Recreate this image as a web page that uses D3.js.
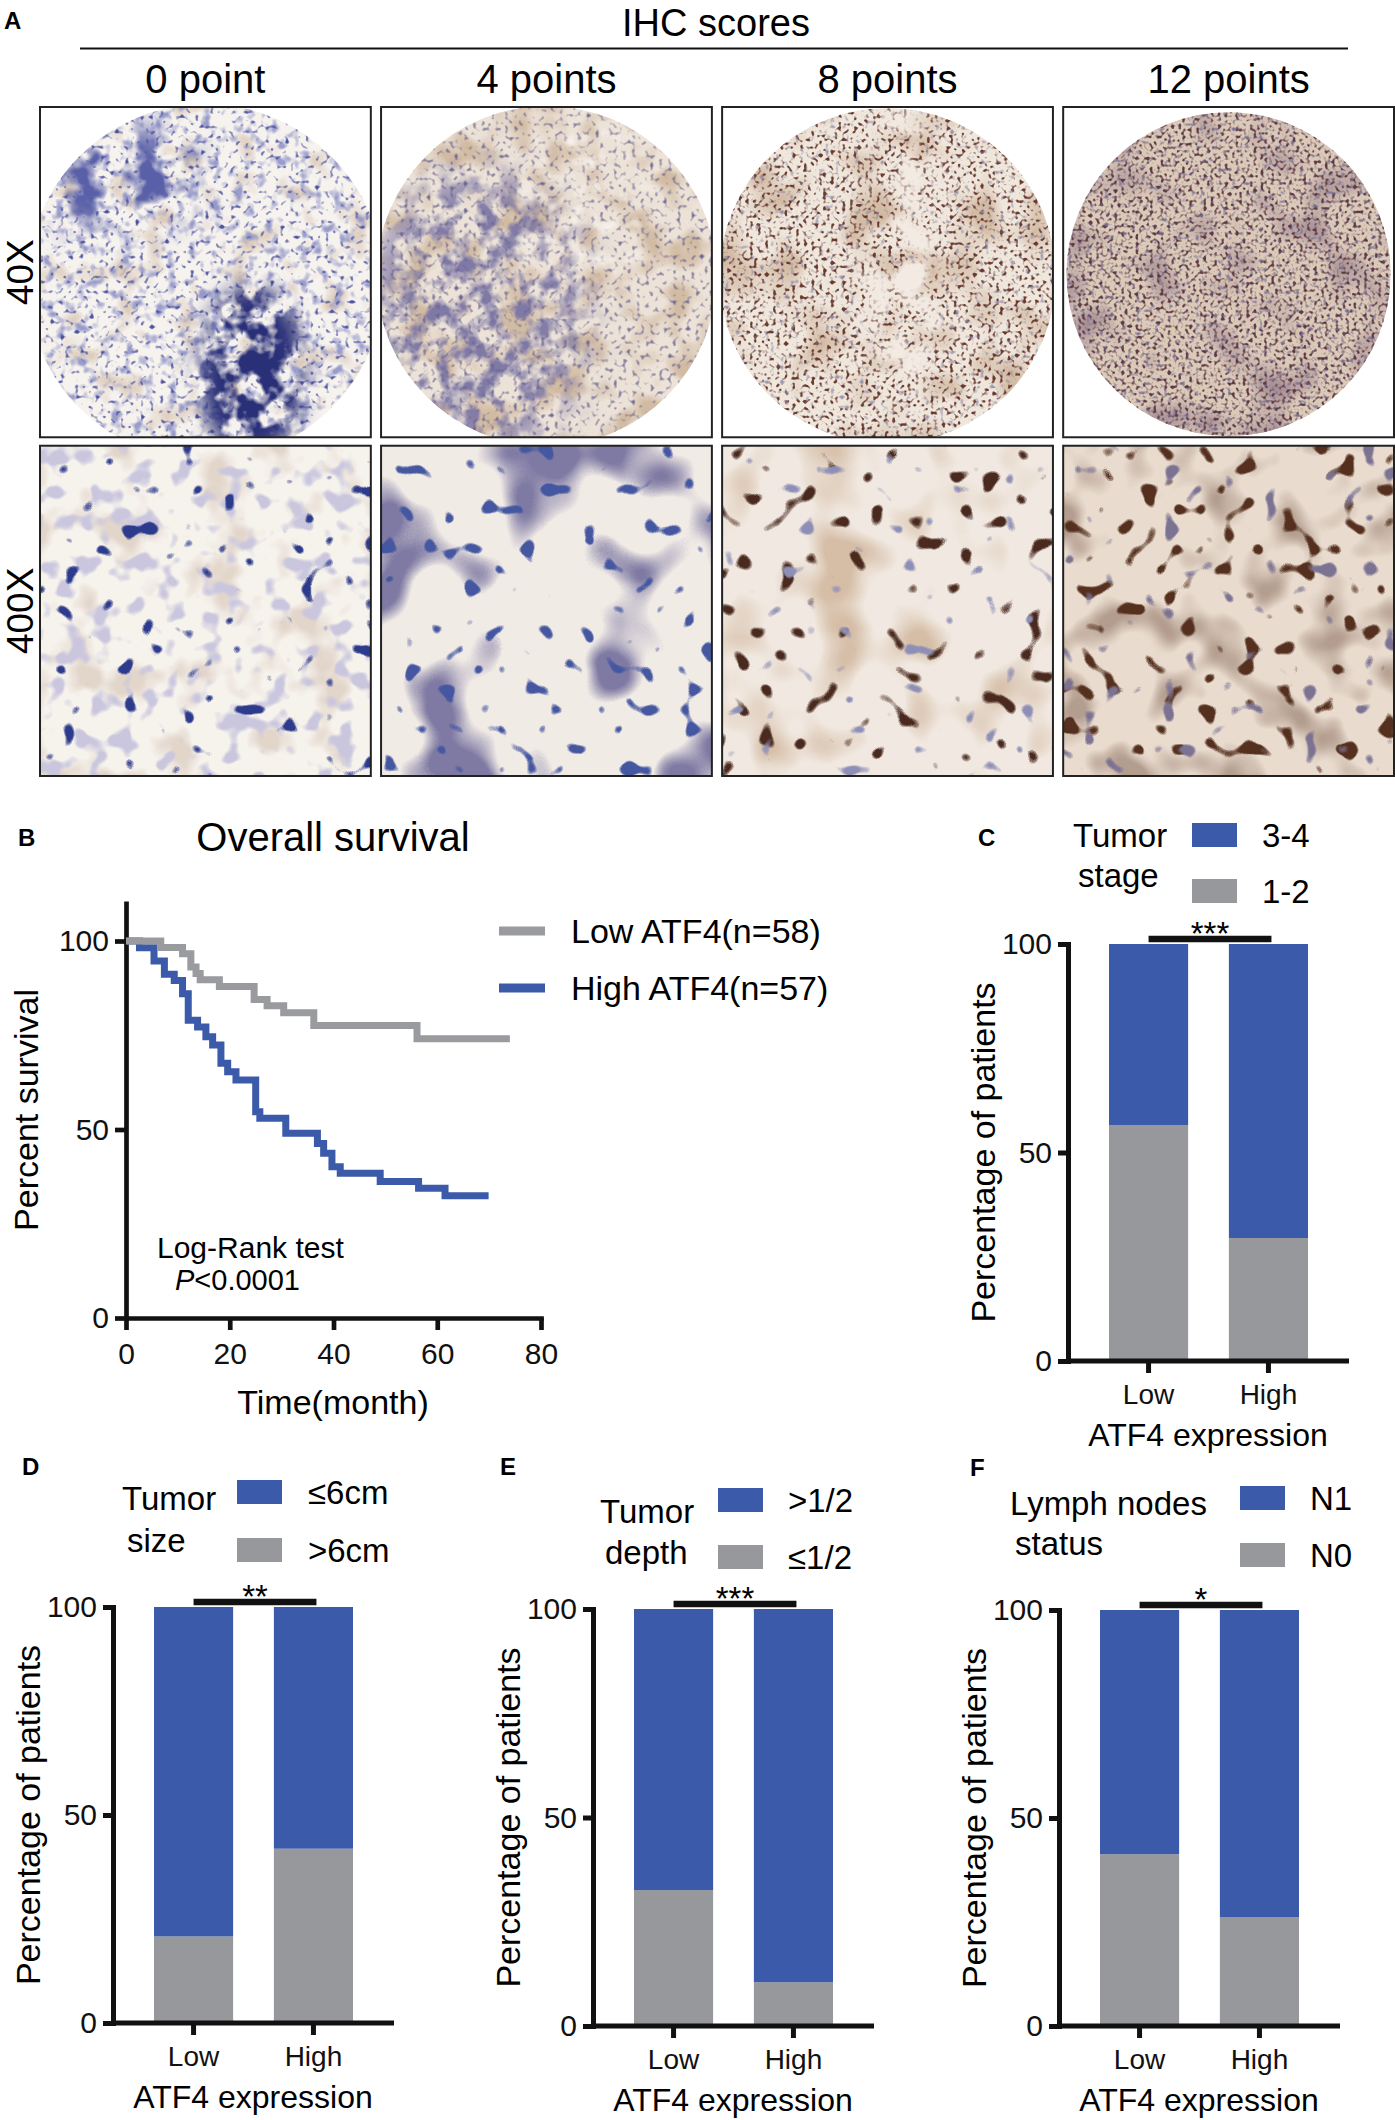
<!DOCTYPE html>
<html>
<head>
<meta charset="utf-8">
<script src="https://d3js.org/d3.v7.min.js"></script>
<style>
  body { margin: 0; background: #fff; }
  svg { display: block; font-family: "Liberation Sans", Arial, Helvetica, sans-serif; }
</style>
</head>
<body>
<svg id="fig" width="1395" height="2120"></svg>
<script>
// ---- panel A: IHC score examples
const ihcScores = ["0 point", "4 points", "8 points", "12 points"];
const magnifications = ["40X", "400X"];

// ---- panel B: Kaplan-Meier steps (month, % surviving)
const lowTime  = [0, 6.7, 10.9, 12.5, 13.5, 14.3, 18.0, 24.7, 27.2, 30.4, 36.2, 56.1];
const lowSurv  = [100, 98.3, 96.6, 93.1, 91.4, 89.7, 87.9, 84.5, 82.8, 81.0, 77.6, 74.1];
const lowLastFollowUp = 74;
const highTime = [0, 2.6, 5.4, 7.4, 9.3, 10.9, 12.0, 13.8, 15.4, 16.7, 18.3, 19.6, 21.2, 25.0, 25.8, 30.8, 36.9, 38.1, 39.7, 41.3, 49.0, 56.4, 61.5];
const highSurv = [100, 98.2, 94.7, 91.2, 89.5, 86.0, 79.0, 77.2, 74.6, 72.4, 67.6, 65.3, 63.1, 54.7, 53.0, 49.0, 46.3, 43.7, 40.1, 38.4, 36.2, 34.4, 32.4];
const highLastFollowUp = 69.9;
const survivalGroups = ["Low ATF4(n=58)", "High ATF4(n=57)"];
const timeTicks = [0, 20, 40, 60, 80];
const survTicks = [0, 50, 100];

// ---- panels C-F: % of patients (gray = lower category), Low vs High ATF4
const expressionGroups = ["Low", "High"];
const pctTicks = [0, 50, 100];
const stageLegend = ["3-4", "1-2"];
const stageGray = [56.6, 29.5];
const sizeLegend = ["≤6cm", ">6cm"];
const sizeGray = [20.8, 41.9];
const depthLegend = [">1/2", "≤1/2"];
const depthGray = [32.6, 10.5];
const nodesLegend = ["N1", "N0"];
const nodesGray = [41.3, 26.2];

const BLUE = "#3b5aa9";
const GRAY = "#96989c";
const LINEGRAY = "#999b9f";

const svg = d3.select("#fig");
const defs = svg.append("defs");

// ================= Panel A =================
svg.append("text").attr("x", 4).attr("y", 20).attr("dominant-baseline", "central")
  .attr("font-weight", "bold").attr("font-size", 24).text("A");
svg.append("text").attr("x", 716).attr("y", 23).attr("text-anchor", "middle")
  .attr("dominant-baseline", "central").attr("font-size", 38).text("IHC scores");
svg.append("line").attr("x1", 80).attr("x2", 1348).attr("y1", 48.5).attr("y2", 48.5)
  .attr("stroke", "#111").attr("stroke-width", 2);

const colA = d3.scaleBand().domain(ihcScores).range([40, 1394]).paddingInner(0.03);
const rowA = d3.scaleBand().domain(magnifications).range([107, 776]).paddingInner(0.025);

svg.selectAll(".colhead").data(ihcScores).join("text")
  .attr("x", d => colA(d) + colA.bandwidth() / 2).attr("y", 79)
  .attr("text-anchor", "middle").attr("dominant-baseline", "central")
  .attr("font-size", 40).text(d => d);

svg.selectAll(".rowhead").data(magnifications).join("text")
  .attr("transform", d => `translate(20,${rowA(d) + rowA.bandwidth() / 2}) rotate(-90)`)
  .attr("text-anchor", "middle").attr("dominant-baseline", "central")
  .attr("font-size", 37).text(d => d);

// noise -> colour, kept only where the shape is (optionally with a soft edge)
function addNoise(id, L, seed) {
  const f = defs.append("filter").attr("id", id)
    .attr("filterUnits", "userSpaceOnUse")
    .attr("x", L.box[0]).attr("y", L.box[1]).attr("width", L.box[2]).attr("height", L.box[3])
    .attr("color-interpolation-filters", "sRGB");
  f.append("feTurbulence").attr("type", "fractalNoise").attr("baseFrequency", L.f)
    .attr("numOctaves", L.o).attr("seed", seed).attr("result", "n");
  const c = d3.rgb(L.c);
  f.append("feColorMatrix").attr("in", "n").attr("type", "matrix")
    .attr("values", [0, 0, 0, 0, c.r / 255, 0, 0, 0, 0, c.g / 255, 0, 0, 0, 0, c.b / 255,
                     L.k, 0, 0, 0, -L.k * L.t].join(" "))
    .attr("result", "c");
  let mask = "SourceGraphic";
  if (L.soft) {
    f.append("feGaussianBlur").attr("in", "SourceGraphic").attr("stdDeviation", L.soft).attr("result", "m");
    mask = "m";
  }
  f.append("feComposite").attr("in", "c").attr("in2", mask).attr("operator", "in");
}

// texture recipes for the micrograph placeholders (stain look only)
// e = optional ellipse [cx, cy, rx, ry] in box fractions restricting a layer
const textures = {
  "40X": [
    { base: "#f6f2ee", r: 178, dy: 10, layers: [
      { f: 0.035, o: 2, c: "#dccbba", t: 0.54, k: 4 },
      { f: 0.09, o: 2, c: "#9a9dcb", t: 0.52, k: 4 },
      { f: 0.2, o: 1, c: "#4d53a0", t: 0.60, k: 6 },
      { f: 0.03, o: 3, c: "#5a60a8", t: 0.47, k: 5, e: [0.22, 0.22, 0.28, 0.16], soft: 14 },
      { f: 0.04, o: 3, c: "#2a3078", t: 0.40, k: 6, e: [0.64, 0.8, 0.16, 0.26], soft: 10 } ] },
    { base: "#ece2d7", r: 170, dy: 4, layers: [
      { f: 0.03, o: 2, c: "#d2bba3", t: 0.46, k: 4 },
      { f: 0.05, o: 3, c: "#7f79a6", t: 0.42, k: 4, e: [0.3, 0.62, 0.32, 0.42], soft: 20 },
      { f: 0.22, o: 1, c: "#6c6690", t: 0.56, k: 4 },
      { f: 0.06, o: 2, c: "#f7f2ec", t: 0.50, k: 3, e: [0.62, 0.3, 0.2, 0.32], soft: 20 } ] },
    { base: "#efe6dc", r: 168, dy: 4, layers: [
      { f: 0.02, o: 2, c: "#d3bca6", t: 0.48, k: 4 },
      { f: 0.26, o: 1, c: "#6a3a30", t: 0.54, k: 6 },
      { f: 0.2, o: 1, c: "#8a86a6", t: 0.6, k: 4 },
      { f: 0.03, o: 2, c: "#f3ebe3", t: 0.45, k: 5, e: [0.55, 0.45, 0.12, 0.45], soft: 12 } ] },
    { base: "#dccab9", r: 162, dy: 2, layers: [
      { f: 0.02, o: 2, c: "#a89196", t: 0.50, k: 3 },
      { f: 0.28, o: 1, c: "#5e3a45", t: 0.51, k: 5 },
      { f: 0.22, o: 1, c: "#6e6a95", t: 0.58, k: 4 } ] }
  ],
  "400X": [
    { base: "#f6f2ec", layers: [
      { f: 0.02, o: 3, c: "#e2d5ca", t: 0.52, k: 5 },
      { f: 0.045, o: 2, c: "#c9c6de", t: 0.55, k: 8 },
      { f: 0.05, o: 1, c: "#2d3b8c", t: 0.66, k: 20 } ] },
    { base: "#f1ebe6", layers: [
      { f: 0.012, o: 2, c: "#7f7aa3", t: 0.53, k: 6 },
      { f: 0.05, o: 1, c: "#4557a0", t: 0.66, k: 20 } ] },
    { base: "#f1e9e1", layers: [
      { f: 0.015, o: 2, c: "#d5bda6", t: 0.50, k: 4 },
      { f: 0.045, o: 1, c: "#4a2a1f", t: 0.64, k: 18 },
      { f: 0.05, o: 1, c: "#8e8fb6", t: 0.68, k: 18 } ] },
    { base: "#e9dccf", layers: [
      { f: 0.02, o: 2, c: "#b39d8e", t: 0.50, k: 4 },
      { f: 0.05, o: 1, c: "#55301f", t: 0.63, k: 18 },
      { f: 0.05, o: 1, c: "#7c7393", t: 0.66, k: 18 } ] }
  ]
};

let seedNo = 3;
magnifications.forEach(mag => {
  ihcScores.forEach((score, i) => {
    const x0 = colA(score), y0 = rowA(mag), w = colA.bandwidth(), h = rowA.bandwidth();
    const id = `clip-${mag}-${i}`;
    const spec = textures[mag][i];
    const cx = x0 + w / 2, cy = y0 + h / 2 + (spec.dy || 0);
    const core = mag === "40X";
    defs.append("clipPath").attr("id", id).append("rect")
      .attr("x", x0).attr("y", y0).attr("width", w).attr("height", h);
    const g = svg.append("g").attr("clip-path", `url(#${id})`);
    g.append("rect").attr("x", x0).attr("y", y0).attr("width", w).attr("height", h).attr("fill", "#fff");
    const inner = g.append("g");
    if (core) {
      const cid = `core-${i}`;
      defs.append("clipPath").attr("id", cid).append("circle").attr("cx", cx).attr("cy", cy).attr("r", spec.r);
      inner.attr("clip-path", `url(#${cid})`);
    }
    inner.append("rect").attr("x", x0).attr("y", y0).attr("width", w).attr("height", h).attr("fill", spec.base);
    spec.layers.forEach((L, j) => {
      const fid = `tex-${mag}-${i}-${j}`;
      addNoise(fid, Object.assign({ box: [x0, y0, w, h] }, L), seedNo++);
      const s = L.e
        ? inner.append("ellipse").attr("cx", x0 + L.e[0] * w).attr("cy", y0 + L.e[1] * h)
            .attr("rx", L.e[2] * w).attr("ry", L.e[3] * h)
        : inner.append("rect").attr("x", x0).attr("y", y0).attr("width", w).attr("height", h);
      s.attr("fill", "#000").attr("filter", `url(#${fid})`);
    });
    svg.append("rect").attr("x", x0).attr("y", y0).attr("width", w).attr("height", h)
      .attr("fill", "none").attr("stroke", "#222").attr("stroke-width", 2);
  });
});

// ================= Panel B =================
const gB = svg.append("g");
gB.append("text").attr("x", 18).attr("y", 837).attr("dominant-baseline", "central")
  .attr("font-weight", "bold").attr("font-size", 24).text("B");
gB.append("text").attr("x", 333).attr("y", 837).attr("text-anchor", "middle")
  .attr("dominant-baseline", "central").attr("font-size", 40).text("Overall survival");

const xS = d3.scaleLinear().domain([0, 80]).range([126, 541]);
const yS = d3.scaleLinear().domain([0, 110]).range([1318, 903.3]);

const axB = gB.append("g").attr("transform", "translate(0,1318)")
  .call(d3.axisBottom(xS).tickValues(timeTicks).tickSize(12).tickSizeOuter(0).tickPadding(13));
const ayB = gB.append("g").attr("transform", "translate(126,0)")
  .call(d3.axisLeft(yS).tickValues(survTicks).tickSize(11).tickSizeOuter(0).tickPadding(6));
[axB, ayB].forEach(a => {
  a.select(".domain").attr("stroke", "#111").attr("stroke-width", 4.7).attr("stroke-linecap", "square");
  a.selectAll(".tick line").attr("stroke", "#111").attr("stroke-width", 4.7);
  a.selectAll(".tick text").attr("font-size", 30).attr("fill", "#111")
    .attr("font-family", "'Liberation Sans', Arial, sans-serif");
});

gB.append("text").attr("x", 333).attr("y", 1402).attr("text-anchor", "middle")
  .attr("dominant-baseline", "central").attr("font-size", 34).text("Time(month)");
gB.append("text").attr("transform", "translate(26,1110) rotate(-90)")
  .attr("text-anchor", "middle").attr("dominant-baseline", "central")
  .attr("font-size", 34).text("Percent survival");

const stepLine = d3.line().x(d => xS(d[0])).y(d => yS(d[1])).curve(d3.curveStepAfter);
const curves = [
  { pts: highTime.map((t, i) => [t, highSurv[i]]).concat([[highLastFollowUp, highSurv[highSurv.length - 1]]]), color: BLUE },
  { pts: lowTime.map((t, i) => [t, lowSurv[i]]).concat([[lowLastFollowUp, lowSurv[lowSurv.length - 1]]]), color: LINEGRAY }
];
gB.selectAll(".km").data(curves).join("path")
  .attr("d", d => stepLine(d.pts)).attr("fill", "none")
  .attr("stroke", d => d.color).attr("stroke-width", 7);

const legB = gB.selectAll(".legB").data(survivalGroups).join("g")
  .attr("transform", (d, i) => `translate(0,${931 + i * 57})`);
legB.append("line").attr("x1", 499).attr("x2", 545).attr("y1", 0).attr("y2", 0)
  .attr("stroke", (d, i) => i === 0 ? LINEGRAY : BLUE).attr("stroke-width", 9);
legB.append("text").attr("x", 571).attr("y", 0).attr("dominant-baseline", "central")
  .attr("font-size", 34).text(d => d);

gB.append("text").attr("x", 157).attr("y", 1247).attr("dominant-baseline", "central")
  .attr("font-size", 30).text("Log-Rank test");
const pTxt = gB.append("text").attr("x", 175).attr("y", 1280).attr("dominant-baseline", "central")
  .attr("font-size", 29);
pTxt.append("tspan").attr("font-style", "italic").text("P");
pTxt.append("tspan").text("<0.0001");

// ================= Panels C-F =================
const barPanels = [
  { letter: "C", lx: 978, ly: 837, ax: 1068, yTop: 944, yBot: 1361, title: ["Tumor", "stage"],
    tx: 1073, ty: [835, 875], sx: 1192, sy: [835, 891], legX: 1262, legend: stageLegend, gray: stageGray, star: "***" },
  { letter: "D", lx: 22, ly: 1466, ax: 113, yTop: 1607, yBot: 2023, title: ["Tumor", "size"],
    tx: 122, ty: [1498, 1540], sx: 237, sy: [1492, 1550], legX: 308, legend: sizeLegend, gray: sizeGray, star: "**" },
  { letter: "E", lx: 500, ly: 1466, ax: 593, yTop: 1609, yBot: 2026, title: ["Tumor", "depth"],
    tx: 600, ty: [1511, 1552], sx: 718, sy: [1500, 1557], legX: 788, legend: depthLegend, gray: depthGray, star: "***" },
  { letter: "F", lx: 970, ly: 1467, ax: 1059, yTop: 1610, yBot: 2026, title: ["Lymph nodes", "status"],
    tx: 1010, ty: [1503, 1543], sx: 1240, sy: [1498, 1555], legX: 1310, legend: nodesLegend, gray: nodesGray, star: "*" }
];

barPanels.forEach(p => {
  const g = svg.append("g");
  g.append("text").attr("x", p.lx).attr("y", p.ly).attr("dominant-baseline", "central")
    .attr("font-weight", "bold").attr("font-size", 24).text(p.letter);

  // legend title + swatches
  p.title.forEach((t, i) => g.append("text").attr("x", p.tx + i * 5).attr("y", p.ty[i])
    .attr("dominant-baseline", "central").attr("font-size", 33).text(t));
  p.legend.forEach((t, i) => {
    g.append("rect").attr("x", p.sx).attr("y", p.sy[i] - 12).attr("width", 45).attr("height", 24)
      .attr("fill", i === 0 ? BLUE : GRAY);
    g.append("text").attr("x", p.legX).attr("y", p.sy[i]).attr("dominant-baseline", "central")
      .attr("font-size", 33).text(t);
  });

  const x = d3.scaleBand().domain(expressionGroups).range([p.ax + 41, p.ax + 240])
    .paddingInner(0.34).paddingOuter(0);
  const y = d3.scaleLinear().domain([0, 100]).range([p.yBot, p.yTop]);

  const rows = expressionGroups.map((grp, i) => ({ group: grp, gray: p.gray[i], blue: 100 - p.gray[i] }));
  const stacked = d3.stack().keys(["gray", "blue"])(rows);
  g.selectAll(".layer").data(stacked).join("g")
    .attr("fill", d => d.key === "gray" ? GRAY : BLUE)
    .selectAll("rect").data(d => d).join("rect")
    .attr("x", d => x(d.data.group)).attr("width", x.bandwidth())
    .attr("y", d => y(d[1])).attr("height", d => y(d[0]) - y(d[1]));

  // axes
  const ay = g.append("g").attr("transform", `translate(${p.ax},0)`)
    .call(d3.axisLeft(y).tickValues(pctTicks).tickSize(10).tickSizeOuter(0).tickPadding(6));
  const axg = g.append("g").attr("transform", `translate(0,${p.yBot})`)
    .call(d3.axisBottom(x).tickSize(12).tickSizeOuter(0).tickPadding(11));
  axg.select(".domain").remove();
  g.append("line").attr("x1", p.ax).attr("x2", p.ax + 281).attr("y1", p.yBot).attr("y2", p.yBot)
    .attr("stroke", "#111").attr("stroke-width", 5);
  [ay, axg].forEach(a => {
    a.select(".domain").attr("stroke", "#111").attr("stroke-width", 5).attr("stroke-linecap", "square");
    a.selectAll(".tick line").attr("stroke", "#111").attr("stroke-width", 5);
    a.selectAll(".tick text").attr("fill", "#111")
      .attr("font-family", "'Liberation Sans', Arial, sans-serif");
  });
  ay.selectAll(".tick text").attr("font-size", 30);
  axg.selectAll(".tick text").attr("font-size", 28);

  // significance bar
  const c0 = x("Low") + x.bandwidth() / 2, c1 = x("High") + x.bandwidth() / 2 + 3;
  g.append("line").attr("x1", c0).attr("x2", c1).attr("y1", p.yTop - 5).attr("y2", p.yTop - 5)
    .attr("stroke", "#111").attr("stroke-width", 6.5);
  g.append("text").attr("x", (c0 + c1) / 2).attr("y", p.yTop + 1).attr("text-anchor", "middle")
    .attr("font-size", 33).text(p.star);

  g.append("text").attr("x", p.ax + 140).attr("y", p.yBot + 74).attr("text-anchor", "middle")
    .attr("dominant-baseline", "central").attr("font-size", 32).text("ATF4 expression");
  g.append("text").attr("transform", `translate(${p.ax - 85},${(p.yTop + p.yBot) / 2}) rotate(-90)`)
    .attr("text-anchor", "middle").attr("dominant-baseline", "central")
    .attr("font-size", 34).text("Percentage of patients");
});
</script>
</body>
</html>
